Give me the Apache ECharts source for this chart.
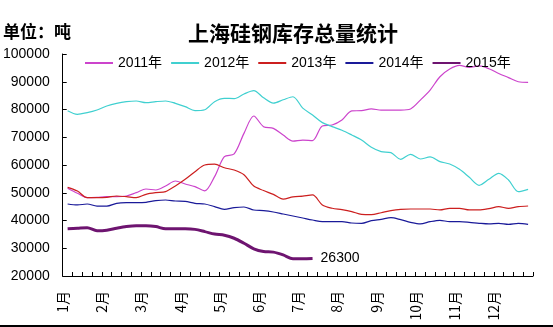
<!DOCTYPE html>
<html>
<head>
<meta charset="utf-8">
<script src="https://cdn.jsdelivr.net/npm/echarts@6/dist/echarts.min.js"></script>
<style>
html,body{margin:0;padding:0;background:#fff;}
#chart{width:553px;height:327px;}
</style>
</head>
<body>
<div id="chart"></div>
<script>
const title = '上海硅钢库存总量统计';
const unitText = '单位：吨';
const monthLabels = ['1月','2月','3月','4月','5月','6月','7月','8月','9月','10月','11月','12月'];
const seriesNames = ['2011年','2012年','2013年','2014年','2015年'];
const yTicks = [20000, 100000, 10000]; // min, max, interval

const s2011 = [51600,49800,48230,48350,48590,48590,48830,50030,51350,51000,52440,54240,53150,52200,50700,55800,63000,64000,71400,77650,73800,73200,70800,68630,69000,68800,74060,74400,76200,79500,79600,80200,79800,79800,79800,80200,83400,87000,91800,94600,95900,95200,95700,94700,93000,91500,90000,89800];
const s2012 = [79580,78270,78870,79830,81270,82230,82830,83070,82470,82830,83070,82230,81030,79580,79900,82830,84040,83920,85590,86800,84200,82300,83500,84600,80500,78040,75270,73820,72500,70820,69020,66380,64820,64460,62050,63860,62170,62900,61210,60370,58440,55560,52680,54840,57000,54600,50390,51230];
const s2013 = [51960,50630,48230,48230,48350,48830,48590,48230,49430,50030,50390,52440,54840,57600,60000,60300,59000,58200,56500,52400,50800,49400,47700,48500,48800,49200,45600,44400,43900,43200,42200,42100,42800,43550,44000,44150,44150,44150,43800,44400,44400,43800,43800,44270,44990,44400,44990,45230];
const s2014 = [45950,45600,45950,45200,45200,46200,46430,46430,46550,47150,47390,47030,46900,46200,45950,45000,44030,44630,44870,43790,43550,43070,42350,41630,40900,40180,39580,39580,39580,39100,38990,39950,40420,41020,40300,39340,38750,39580,40070,39580,39580,39340,38990,38750,38990,38630,38990,38630];
const s2015 = [37000,37200,37400,36300,36500,37200,37800,38100,38100,37800,37000,37000,37000,36800,36000,35100,34700,33600,31800,29800,28800,28600,27600,26200,26200,26300];

const colors = ['#CC44CC','#40D0D0','#CC1F1F','#1A1A99','#6E1470'];
const widths = [1.2,1.2,1.2,1.2,3];

// weekly categories (4 per month)
const weeks = [];
monthLabels.forEach(m => { for (let k = 1; k <= 4; k++) weeks.push(m + '第' + k + '周'); });
// boundary axis for month labels / ticks (49 boundaries)
const boundaries = [];
for (let i = 0; i <= weeks.length; i++) boundaries.push(i % 4 === 0 && i < weeks.length ? monthLabels[i / 4] : '');

const allData = [s2011, s2012, s2013, s2014, s2015];
const numFont = 'Liberation Sans, Arial, Noto Sans CJK SC, sans-serif';
const cjkFont = 'Noto Sans CJK SC, sans-serif';

const chart = echarts.init(document.getElementById('chart'), null, {renderer: 'canvas'});
chart.setOption({
  animation: false,
  backgroundColor: '#ffffff',
  title: {
    text: title,
    left: 183, top: 18,
    textStyle: {fontFamily: cjkFont, fontSize: 21, fontWeight: 'bold', color: '#000'}
  },
  graphic: [
    {type: 'text', left: 3, top: 23, style: {text: unitText, font: 'bold 17px ' + cjkFont, fill: '#000'}},
    {type: 'rect', shape: {x: 0, y: 325, width: 553, height: 2}, style: {fill: '#000'}}
  ],
  legend: {
    left: 79, top: 51,
    itemWidth: 28, itemHeight: 14, itemGap: 8,
    itemStyle: {opacity: 0},
    textStyle: {fontFamily: numFont, fontSize: 14, color: '#000'},
    data: seriesNames
  },
  grid: {left: 62, right: 20, top: 54, bottom: 51, containLabel: false},
  xAxis: [
    {type: 'category', data: weeks, boundaryGap: true, show: false, position: 'bottom'},
    {type: 'category', data: boundaries, boundaryGap: false, position: 'bottom',
     axisLine: {lineStyle: {color: '#000', width: 1}},
     axisTick: {inside: true, length: 4, interval: 0, lineStyle: {color: '#000'}},
     axisLabel: {interval: 0, rotate: 90, margin: 15, fontSize: 14, fontFamily: cjkFont, color: '#000'},
     splitLine: {show: false}}
  ],
  yAxis: {
    type: 'value', min: yTicks[0], max: yTicks[1], interval: yTicks[2],
    axisLine: {show: true, lineStyle: {color: '#000', width: 1}},
    axisTick: {show: true, inside: true, length: 4, lineStyle: {color: '#000'}},
    axisLabel: {margin: 13, fontSize: 14, fontFamily: numFont, color: '#000', formatter: v => String(v)},
    splitLine: {show: false}
  },
  series: seriesNames.map((name, i) => ({
    name: name,
    type: 'line',
    xAxisIndex: 0,
    data: allData[i],
    symbol: 'none',
    smooth: 0.3,
    color: colors[i],
    lineStyle: {width: widths[i], color: colors[i]},
    endLabel: i === 4 ? {show: true, distance: 8, formatter: p => String(p.value), fontSize: 14, fontFamily: numFont, color: '#000'} : {show: false},
    z: i === 4 ? 5 : 2
  }))
});
</script>
</body>
</html>
